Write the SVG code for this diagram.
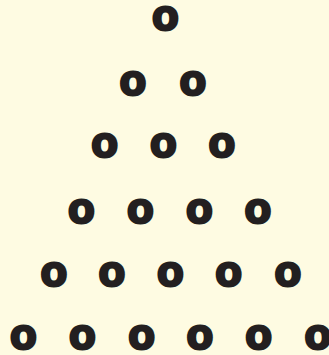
<svg xmlns="http://www.w3.org/2000/svg" width="329" height="355" viewBox="0 0 329 355">
<style>
.o{font-family:"Liberation Sans",Arial,sans-serif;font-weight:bold;font-size:43px;fill:#231f20;stroke:#231f20;stroke-width:3;stroke-linejoin:round;text-anchor:middle}
</style>
<rect width="329" height="355" fill="#fefbe2"/>
<g id="row1">
<text class="o" x="165.5" y="30">o</text>
</g>
<g id="row2">
<text class="o" x="133" y="94.5">o</text>
<text class="o" x="192.8" y="94.5">o</text>
</g>
<g id="row3">
<text class="o" x="104.7" y="157">o</text>
<text class="o" x="163.3" y="157">o</text>
<text class="o" x="222" y="157">o</text>
</g>
<g id="row4">
<text class="o" x="81.3" y="222.7">o</text>
<text class="o" x="140.5" y="222.7">o</text>
<text class="o" x="199.3" y="222.7">o</text>
<text class="o" x="258" y="222.7">o</text>
</g>
<g id="row5">
<text class="o" x="54" y="286">o</text>
<text class="o" x="112" y="286">o</text>
<text class="o" x="170.3" y="286">o</text>
<text class="o" x="228.7" y="286">o</text>
<text class="o" x="288" y="286">o</text>
</g>
<g id="row6">
<text class="o" x="23.3" y="349">o</text>
<text class="o" x="82.5" y="349">o</text>
<text class="o" x="141.7" y="349">o</text>
<text class="o" x="200" y="349">o</text>
<text class="o" x="258.7" y="349">o</text>
<text class="o" x="318" y="349">o</text>
</g>
</svg>
